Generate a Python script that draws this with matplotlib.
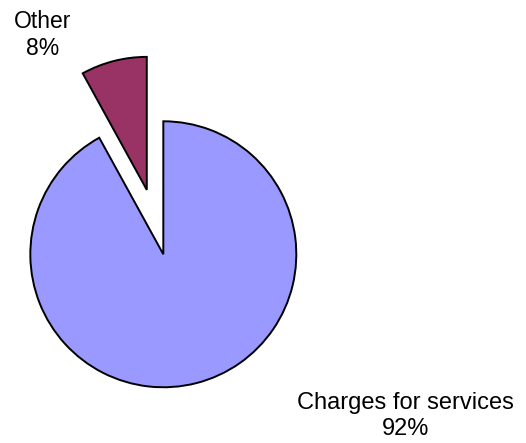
import matplotlib
matplotlib.use("Agg")
import matplotlib.pyplot as plt

plt.rcParams['font.family'] = ['Liberation Sans', 'DejaVu Sans']

labels = ['Charges for services', 'Other']
shares = [92, 8]
colors = ['#9999FF', '#993366']
explode = [0, 0.5]

fig = plt.figure(figsize=(5.26, 4.43), dpi=100)
ax = fig.add_axes([0, 0, 1, 1])

ax.pie(shares, colors=colors, explode=explode, startangle=90,
       counterclock=False, radius=1,
       wedgeprops=dict(edgecolor='black', linewidth=1.4))

# one data unit = pie radius
ax.set_xlim(-1.228, 2.727)
ax.set_ylim(-1.419, 1.912)
ax.set_aspect('equal')
ax.axis('off')

ax.text(-0.91, 1.65, f"{labels[1]}\n{shares[1]}%", ha='center', va='center',
        fontsize=16.5, linespacing=1.2)
ax.text(1.82, -1.215, f"{labels[0]}\n{shares[0]}%", ha='center', va='center',
        fontsize=17, linespacing=1.2, wrap=False)

fig.savefig('out.png', dpi=100)
